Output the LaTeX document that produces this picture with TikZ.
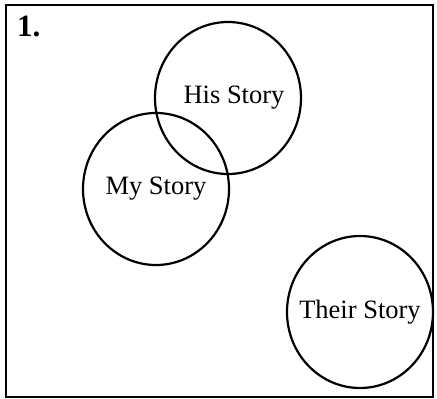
\documentclass[tikz,border=0pt]{standalone}
\usepackage{fontspec}
\setmainfont{Liberation Serif}
\usetikzlibrary{shapes.geometric}

\begin{document}
\begin{tikzpicture}[x=1pt, y=-1pt, every path/.style={line width=2.2pt},
  story/.style={ellipse, draw, inner sep=0pt, minimum width=146pt, minimum height=152pt, font=\fontsize{26.5}{30}\selectfont}]

\useasboundingbox (0,0) rectangle (437,399);

% Frame and number
\draw[line width=2.6pt] (6,5) rectangle (433,397);
\node[anchor=north west, inner sep=0pt, font=\bfseries\fontsize{31}{34}\selectfont] (num) at (16,15) {1.};

% Story circles
\node[story] (his) at (228,98) {\makebox[0pt]{\hspace*{12pt}His Story}};
\node[story] (my) at (156,189) {\makebox[0pt]{My Story}};
\node[story] (their) at (360,312) {\makebox[0pt]{Their Story}};

\end{tikzpicture}
\end{document}
